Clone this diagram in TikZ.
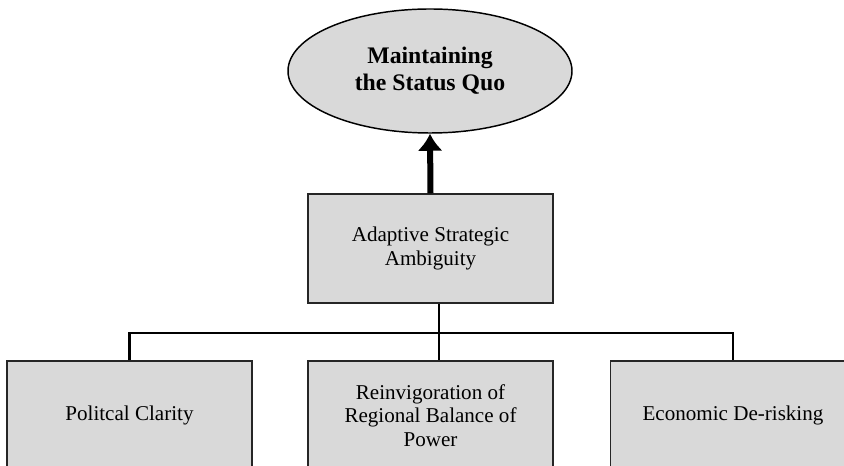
\documentclass[tikz,border=0pt]{standalone}
\usepackage{fontspec}
\setmainfont{Liberation Serif}
\usetikzlibrary{shapes.geometric,arrows.meta}
\definecolor{boxgray}{HTML}{D9D9D9}
\begin{document}
\begin{tikzpicture}[x=0.75pt, y=-0.75pt,
        box/.style={draw=black!85, line width=1.1pt, fill=boxgray, align=center,
            minimum width=183.75pt, minimum height=81.75pt, inner sep=0pt,
            font=\fontsize{15.8}{17.5}\selectfont},
        goal/.style={ellipse, draw=black, line width=1.1pt, fill=boxgray, align=center,
            minimum width=213pt, minimum height=93pt, inner sep=0pt,
            font=\fontsize{17.8}{20}\selectfont\bfseries},
        link/.style={line width=1.6pt}]
        \useasboundingbox (0,0) rectangle (844,466);
        \clip (0,0) rectangle (844,466);
        \node [goal] (quo) at (430,71) {Maintaining\\the Status Quo};
        \node [box] (asa) at (430.5,248.5) {Adaptive Strategic\\Ambiguity};
        \node [box] (pol) at (129.5,415.5) {Politcal Clarity};
        \node [box] (bal) at (430.5,415.5) {Reinvigoration of\\Regional Balance of\\Power};
        \node [box] (eco) at (733,415.5) {Economic De-risking};
        \coordinate (hub) at (439,333);
        \draw [-{Latex[length=12.75pt, width=19pt]}, line width=4.5pt] (asa.north) -- (quo.south);
        \draw [line width=2.2pt] (asa.south -| hub) -- (hub) -- (hub |- bal.north);
        \draw [link] (pol.north) |- (hub) -| (eco.north);
\end{tikzpicture}
\end{document}
